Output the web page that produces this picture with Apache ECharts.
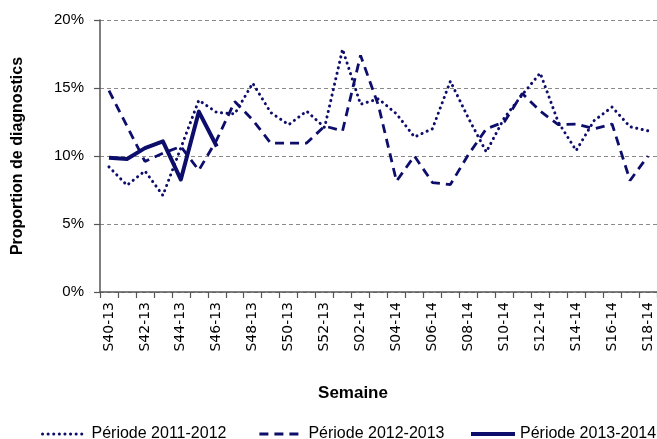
<!DOCTYPE html>
<html>
<head>
<meta charset="utf-8">
<script src="https://cdn.jsdelivr.net/npm/echarts@6/dist/echarts.min.js"></script>
<style>
html,body{margin:0;padding:0;background:#fff;overflow:hidden;}
#chart{width:657px;height:439px;}
</style>
</head>
<body>
<div id="chart"></div>
<script>
// Weeks (categories)
var weeks = ['S40-13','S41-13','S42-13','S43-13','S44-13','S45-13','S46-13','S47-13','S48-13','S49-13','S50-13','S51-13','S52-13',
  'S01-14','S02-14','S03-14','S04-14','S05-14','S06-14','S07-14','S08-14','S09-14','S10-14','S11-14','S12-14','S13-14','S14-14','S15-14','S16-14','S17-14','S18-14'];

// Proportion de diagnostics (%)
var periode2011_2012 = [9.2, 7.85, 8.9, 7.1, 10.6, 14.1, 13.2, 13.1, 15.35, 13.2, 12.3, 13.3, 12.1,
  17.85, 13.8, 14.2, 13.1, 11.4, 12.0, 15.5, 12.8, 10.3, 12.8, 14.5, 16.1, 12.5, 10.4, 12.6, 13.6, 12.15, 11.85];
var periode2012_2013 = [14.8, 12.2, 9.6, 10.2, 10.7, 8.95, 11.2, 14.0, 12.65, 10.95, 10.95, 10.95, 12.2,
  11.85, 17.4, 13.7, 8.15, 10.0, 8.05, 7.9, 10.1, 12.0, 12.5, 14.6, 13.3, 12.3, 12.35, 12.0, 12.35, 8.2, 10.0];
var periode2013_2014 = [9.88, 9.78, 10.58, 11.08, 8.27, 13.26, 10.7];

var seriesNames = ['Période 2011-2012', 'Période 2012-2013', 'Période 2013-2014'];
var yTicks = [0, 5, 10, 15, 20];

var navy = '#0d0d6b';
var font = 'Liberation Sans, Arial, sans-serif';

var styles = [
  {color: navy, width: 3, type: [0.1, 5.5], cap: 'round', join: 'round'},
  {color: navy, width: 2.8, type: [9, 6]},
  {color: navy, width: 4, type: 'solid', join: 'round'}
];

function legendAt(idx, left) {
  return {data: [seriesNames[idx]], left: left, top: 421, itemWidth: 44, itemHeight: 12, itemGap: 0,
    itemStyle: {opacity: 0, borderWidth: 0},
    lineStyle: {width: styles[idx].width, type: styles[idx].type, cap: styles[idx].cap || 'butt'},
    textStyle: {fontSize: 16, color: '#000', fontFamily: font}};
}

var chart = echarts.init(document.getElementById('chart'), null, {renderer: 'canvas'});
chart.setOption({
  animation: false,
  backgroundColor: '#fff',
  grid: {left: 100, top: 20, bottom: 147, right: -6, containLabel: false},
  legend: [legendAt(0, 36), legendAt(1, 253), legendAt(2, 464)],
  xAxis: {
    type: 'category',
    data: weeks,
    boundaryGap: true,
    name: 'Semaine',
    nameLocation: 'middle',
    nameGap: 93,
    nameTextStyle: {fontSize: 17, fontWeight: 'bold', color: '#000', fontFamily: font, padding: [0, 51, 0, 0], verticalAlign: 'top'},
    axisLine: {lineStyle: {color: '#555', width: 1.5}},
    axisTick: {show: true, interval: 0, length: 6, lineStyle: {color: '#555', width: 1.2}},
    axisLabel: {interval: 1, rotate: 90, margin: 10, fontSize: 14, color: '#000', fontFamily: 'DejaVu Sans, sans-serif'},
    splitLine: {show: false}
  },
  yAxis: {
    type: 'value',
    min: yTicks[0],
    max: yTicks[yTicks.length - 1],
    interval: 5,
    name: 'Proportion de diagnostics',
    nameLocation: 'middle',
    nameGap: 74,
    nameTextStyle: {fontSize: 16, fontWeight: 'bold', color: '#000', fontFamily: font},
    axisLine: {show: true, lineStyle: {color: '#555', width: 1.5}},
    axisTick: {show: true, length: 6, lineStyle: {color: '#555', width: 1.2}},
    axisLabel: {formatter: '{value}%', margin: 16, fontSize: 15, color: '#000', fontFamily: font},
    splitLine: {show: true, lineStyle: {color: '#8a8a8a', type: [4, 3], width: 1}}
  },
  series: [
    {name: seriesNames[0], type: 'line', data: periode2011_2012, symbol: 'none', showSymbol: false,
     itemStyle: {color: navy}, lineStyle: styles[0]},
    {name: seriesNames[1], type: 'line', data: periode2012_2013, symbol: 'none', showSymbol: false,
     itemStyle: {color: navy}, lineStyle: styles[1]},
    {name: seriesNames[2], type: 'line', data: periode2013_2014, symbol: 'none', showSymbol: false,
     itemStyle: {color: navy}, lineStyle: styles[2]}
  ]
});
</script>
</body>
</html>
